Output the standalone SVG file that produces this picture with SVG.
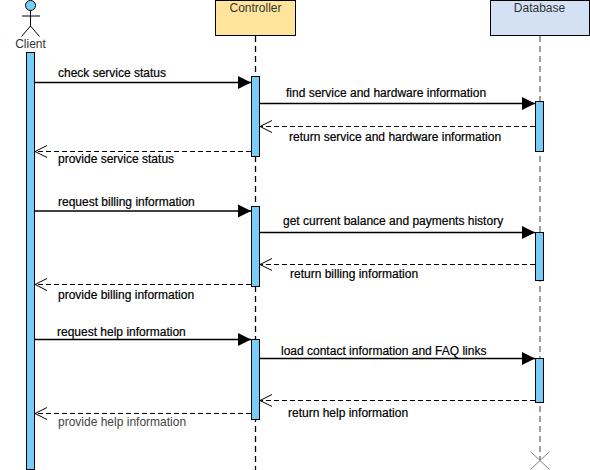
<svg xmlns="http://www.w3.org/2000/svg" width="590" height="470" viewBox="0 0 590 470">
<defs>
<style>
text{font-family:"Liberation Sans",Arial,sans-serif;font-size:12px;fill:#000}
.lbl{stroke:#000;stroke-width:.2px}
.nm{fill:#333}
.ll{stroke:#000;stroke-width:1.3;stroke-dasharray:6 4;fill:none}
.lg{stroke:#808080;stroke-width:1.5;stroke-dasharray:6 4;fill:none}
.act{fill:#76cdf7;stroke:#000;stroke-width:1}
.sync{stroke:#000;stroke-width:1.3;fill:none;marker-end:url(#tri)}
.ret{stroke:#000;stroke-width:1;stroke-dasharray:5 3;fill:none;marker-end:url(#open)}
</style>
<marker id="tri" markerUnits="userSpaceOnUse" markerWidth="14" markerHeight="14" refX="13" refY="7" orient="auto"><path d="M0 0.5L13 7L0 13.5Z" fill="#000"/></marker>
<marker id="open" markerUnits="userSpaceOnUse" markerWidth="14" markerHeight="14" refX="13" refY="7" orient="auto"><path d="M1 1L13 7L1 13" fill="none" stroke="#000"/></marker>
</defs>
<g id="client">
<circle cx="30.500" cy="5.500" r="5" fill="#76cdf7" stroke="#000"/>
<path d="M30.500 10.500V26M22 16H40M30.500 26L21.500 36.500M30.500 26L39.500 36.500" fill="none" stroke="#000"/>
<text x="30.500" y="48" text-anchor="middle" class="nm">Client</text>
<rect class="act" x="26.500" y="52.500" width="8" height="417"/>
</g>
<g id="controller">
<rect x="215.500" y="0.500" width="80" height="35" fill="#ffe49b" stroke="#000"/>
<text x="255.500" y="12" text-anchor="middle" class="nm">Controller</text>
<path class="ll" d="M255.500 36V470"/>
<rect class="act" x="251.500" y="76.500" width="8" height="80"/>
<rect class="act" x="251.500" y="206.500" width="8" height="80"/>
<rect class="act" x="251.500" y="339.500" width="8" height="80"/>
</g>
<g id="database">
<rect x="490.500" y="0.500" width="99" height="35" fill="#d4e1f5" stroke="#000"/>
<text x="539.500" y="12" text-anchor="middle" class="nm">Database</text>
<path class="lg" d="M540 36V460"/>
<path d="M530.500 451.500L549.500 469.500M549.500 451.500L530.500 469.500" stroke="#808080" fill="none"/>
<rect class="act" x="535.500" y="101.500" width="8" height="50"/>
<rect class="act" x="535.500" y="232.500" width="8" height="48"/>
<rect class="act" x="535.500" y="358.500" width="8" height="44"/>
</g>
<g id="connectors">
<path class="sync" d="M34 82.500H251"/>
<path class="sync" d="M259 103.500H535"/>
<path class="ret" d="M535 126.500H260"/>
<path class="ret" d="M251 151.500H35"/>
<path class="sync" d="M34 211H251"/>
<path class="sync" d="M259 232.500H535"/>
<path class="ret" d="M535 264.500H260"/>
<path class="ret" d="M251 284.500H35"/>
<path class="sync" d="M34 339.500H251"/>
<path class="sync" d="M259 358.500H535"/>
<path class="ret" d="M535 400.500H260"/>
<path class="ret" d="M251 413.500H35"/>
</g>
<g id="labels">
<text class="lbl" x="58" y="77">check service status</text>
<text class="lbl" x="286" y="97">find service and hardware information</text>
<text class="lbl" x="289" y="141">return service and hardware information</text>
<text class="lbl" x="58" y="163">provide service status</text>
<text class="lbl" x="58" y="206">request billing information</text>
<text class="lbl" x="283" y="225">get current balance and payments history</text>
<text class="lbl" x="290" y="278">return billing information</text>
<text class="lbl" x="58" y="299">provide billing information</text>
<text class="lbl" x="57" y="336">request help information</text>
<text class="lbl" x="281" y="355">load contact information and FAQ links</text>
<text class="lbl" x="288" y="417">return help information</text>
<text x="58" y="426" fill="#333" style="fill:#444">provide help information</text>
</g>
</svg>
